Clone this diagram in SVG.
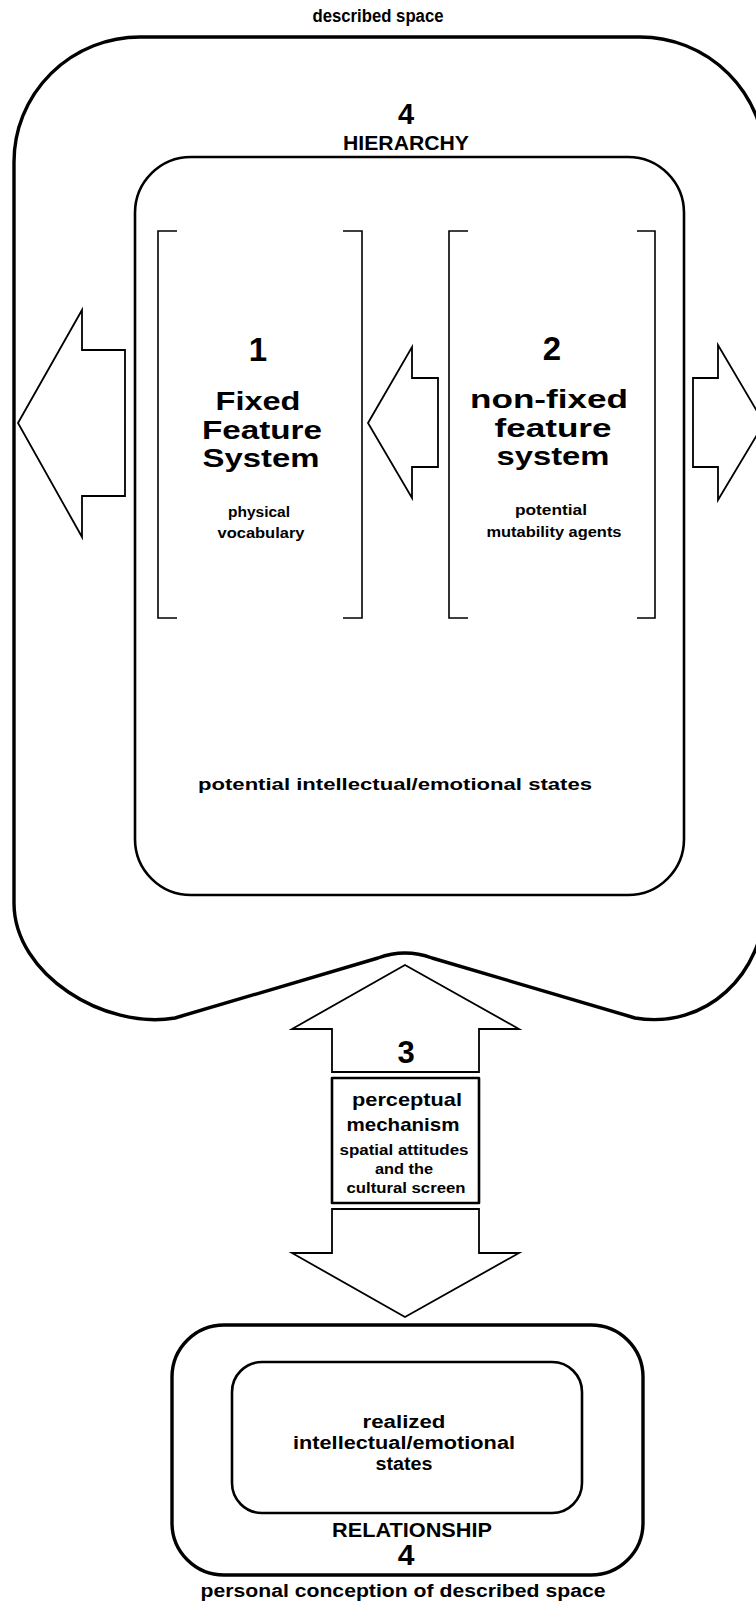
<svg xmlns="http://www.w3.org/2000/svg" width="756" height="1606" viewBox="0 0 756 1606">
<style>
  text { font-family: "Liberation Sans", Arial, sans-serif; font-weight: bold; fill: #000; text-anchor: middle; }
  .thick { fill: none; stroke: #000; stroke-width: 3.4; stroke-linejoin: round; }
  .med { fill: none; stroke: #000; stroke-width: 2.6; stroke-linejoin: round; }
  .arrow { fill: #fff; stroke: #000; stroke-width: 1.8; stroke-linejoin: miter; }
  .bracket { fill: none; stroke: #000; stroke-width: 1.6; }
</style>
<rect width="756" height="1606" fill="#fff"/>

<g id="connectors">
  <path class="arrow" d="M 18,423 L 82,310 L 82,350 L 125,350 L 125,496 L 82,496 L 82,537 Z"/>
  <path class="arrow" d="M 368,423 L 412,347 L 412,378 L 438,378 L 438,467 L 412,467 L 412,498 Z"/>
  <path class="arrow" d="M 764,423 L 718,345 L 718,378 L 693,378 L 693,467 L 718,467 L 718,500 Z"/>
  <path class="arrow" d="M 405,965 L 292,1029 L 332,1029 L 332,1072 L 479,1072 L 479,1029 L 519,1029 Z"/>
  <path class="arrow" d="M 405,1317 L 292,1253 L 332,1253 L 332,1209 L 479,1209 L 479,1253 L 519,1253 Z"/>
</g>

<g id="described-space">
  <path class="thick" d="M 140,37 L 640,37 A 125 125 0 0 1 765,162 L 765,900 C 765,975 705,1030 635,1018 L 432,958 Q 405,948 378,958 L 175,1018 C 105,1030 14,975 14,903 L 14,162 A 126 125 0 0 1 140,37 Z"/>
  <text x="378" y="22" font-size="18" textLength="131" lengthAdjust="spacingAndGlyphs">described space</text>
  <text x="406" y="124" font-size="29">4</text>
  <text x="406" y="150" font-size="20" textLength="126" lengthAdjust="spacingAndGlyphs">HIERARCHY</text>
</g>

<g id="hierarchy-box">
  <rect class="med" x="135" y="157" width="549" height="738" rx="56" ry="56"/>
  <text x="395" y="790" font-size="17" textLength="394" lengthAdjust="spacingAndGlyphs">potential intellectual/emotional states</text>
</g>

<g id="fixed-feature">
  <path class="bracket" d="M 177,231 L 158,231 L 158,618 L 177,618"/>
  <path class="bracket" d="M 343,231 L 362,231 L 362,618 L 343,618"/>
  <text x="258" y="361" font-size="33">1</text>
  <text x="258" y="410" font-size="25" textLength="85" lengthAdjust="spacingAndGlyphs">Fixed</text>
  <text x="262" y="439" font-size="25" textLength="120" lengthAdjust="spacingAndGlyphs">Feature</text>
  <text x="261" y="467" font-size="25" textLength="117" lengthAdjust="spacingAndGlyphs">System</text>
  <text x="259" y="517" font-size="14" textLength="62" lengthAdjust="spacingAndGlyphs">physical</text>
  <text x="261" y="538" font-size="14" textLength="87" lengthAdjust="spacingAndGlyphs">vocabulary</text>
</g>

<g id="non-fixed-feature">
  <path class="bracket" d="M 468,231 L 449,231 L 449,618 L 468,618"/>
  <path class="bracket" d="M 637,231 L 655,231 L 655,618 L 637,618"/>
  <text x="552" y="360" font-size="33">2</text>
  <text x="549" y="408" font-size="25" textLength="158" lengthAdjust="spacingAndGlyphs">non-fixed</text>
  <text x="553" y="437" font-size="25" textLength="117" lengthAdjust="spacingAndGlyphs">feature</text>
  <text x="553" y="465" font-size="25" textLength="113" lengthAdjust="spacingAndGlyphs">system</text>
  <text x="551" y="515" font-size="14" textLength="72" lengthAdjust="spacingAndGlyphs">potential</text>
  <text x="554" y="537" font-size="14" textLength="135" lengthAdjust="spacingAndGlyphs">mutability agents</text>
</g>

<g id="perceptual-mechanism">
  <rect class="med" x="332" y="1078" width="147" height="125"/>
  <text x="406" y="1063" font-size="31">3</text>
  <text x="407" y="1106" font-size="19" textLength="110" lengthAdjust="spacingAndGlyphs">perceptual</text>
  <text x="403" y="1131" font-size="19" textLength="113" lengthAdjust="spacingAndGlyphs">mechanism</text>
  <text x="404" y="1155" font-size="14" textLength="129" lengthAdjust="spacingAndGlyphs">spatial attitudes</text>
  <text x="404" y="1174" font-size="14" textLength="58" lengthAdjust="spacingAndGlyphs">and the</text>
  <text x="406" y="1193" font-size="14" textLength="119" lengthAdjust="spacingAndGlyphs">cultural screen</text>
</g>

<g id="relationship">
  <rect class="thick" x="172" y="1325" width="471" height="250" rx="52" ry="52"/>
  <rect class="med" x="232" y="1362" width="350" height="151" rx="30" ry="30"/>
  <text x="404" y="1428" font-size="18" textLength="83" lengthAdjust="spacingAndGlyphs">realized</text>
  <text x="404" y="1449" font-size="18" textLength="222" lengthAdjust="spacingAndGlyphs">intellectual/emotional</text>
  <text x="404" y="1470" font-size="18" textLength="57" lengthAdjust="spacingAndGlyphs">states</text>
  <text x="412" y="1537" font-size="20" textLength="160" lengthAdjust="spacingAndGlyphs">RELATIONSHIP</text>
  <text x="406" y="1565" font-size="30">4</text>
  <text x="403" y="1597" font-size="18" textLength="405" lengthAdjust="spacingAndGlyphs">personal conception of described space</text>
</g>
</svg>
